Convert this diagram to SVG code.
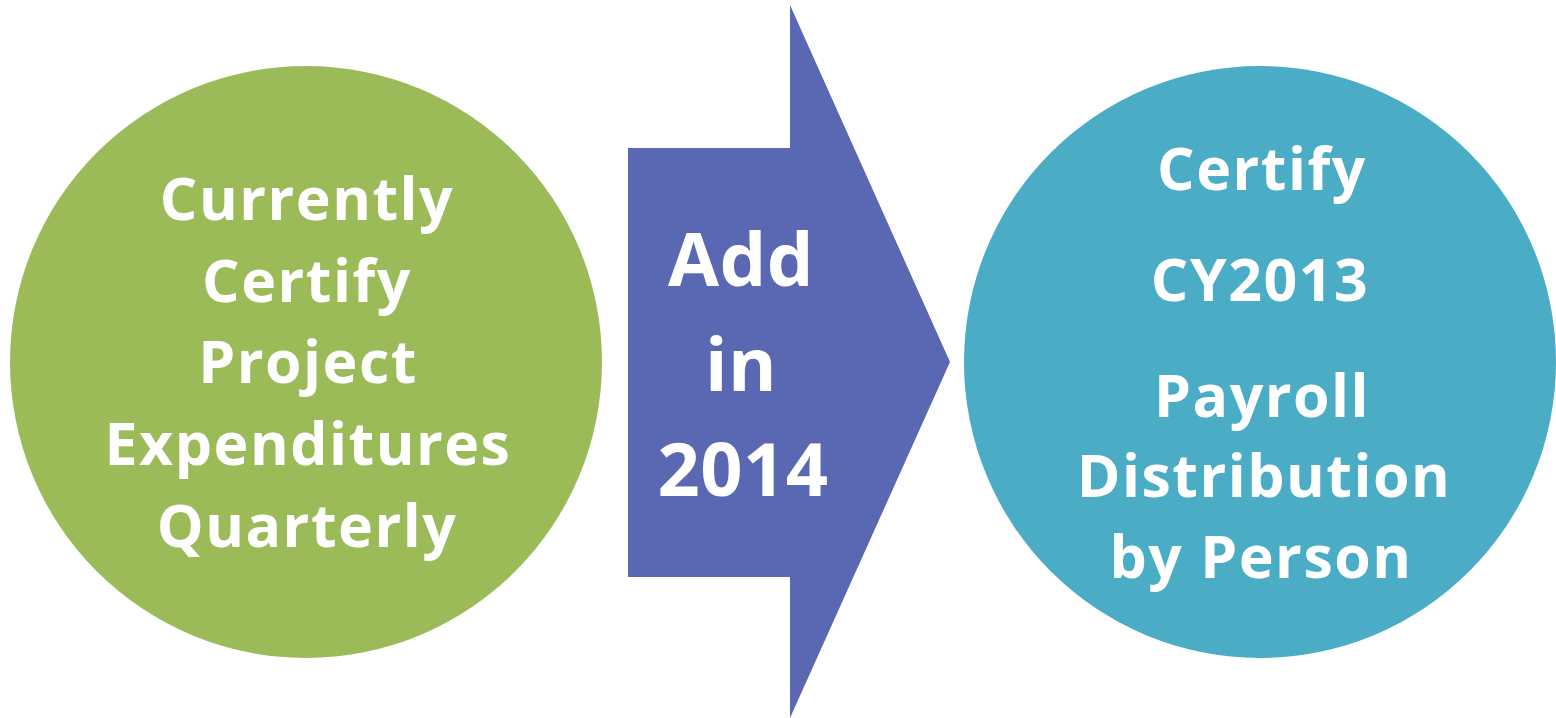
<svg xmlns="http://www.w3.org/2000/svg" width="1556" height="718" viewBox="0 0 1556 718">
  <style>
    .label { font-family: "Open Sans", "Noto Sans", "Liberation Sans", sans-serif; font-weight: 700; fill: #ffffff; text-anchor: middle; }
    .side { font-size: 59px; letter-spacing: 1.5px; }
    .mid { font-size: 74px; letter-spacing: 0.5px; }
  </style>
  <rect width="1556" height="718" fill="#ffffff"/>

  <!-- Current process -->
  <g id="current">
    <circle cx="306" cy="362" r="296" fill="#9BBB59"/>
    <text class="label side" x="307" y="220">Currently</text>
    <text class="label side" x="307" y="302">Certify</text>
    <text class="label side" x="308" y="383">Project</text>
    <text class="label side" x="308" y="465">Expenditures</text>
    <text class="label side" x="307" y="547">Quarterly</text>
  </g>

  <!-- Transition arrow -->
  <g id="connectors">
    <g id="add-arrow">
      <polygon points="628,148 790,148 790,5 950,362 790,718 790,577 628,577" fill="#5A67B2"/>
      <text class="label mid" x="741" y="286">Add</text>
      <text class="label mid" x="741" y="391">in</text>
      <text class="label mid" x="743" y="496">2014</text>
    </g>
  </g>

  <!-- New process -->
  <g id="new">
    <circle cx="1260" cy="362" r="296" fill="#4BACC6"/>
    <text class="label side" x="1262" y="190">Certify</text>
    <text class="label side" x="1260" y="301">CY2013</text>
    <text class="label side" x="1262" y="417">Payroll</text>
    <text class="label side" x="1264" y="497">Distribution</text>
    <text class="label side" x="1261" y="578">by Person</text>
  </g>
</svg>
